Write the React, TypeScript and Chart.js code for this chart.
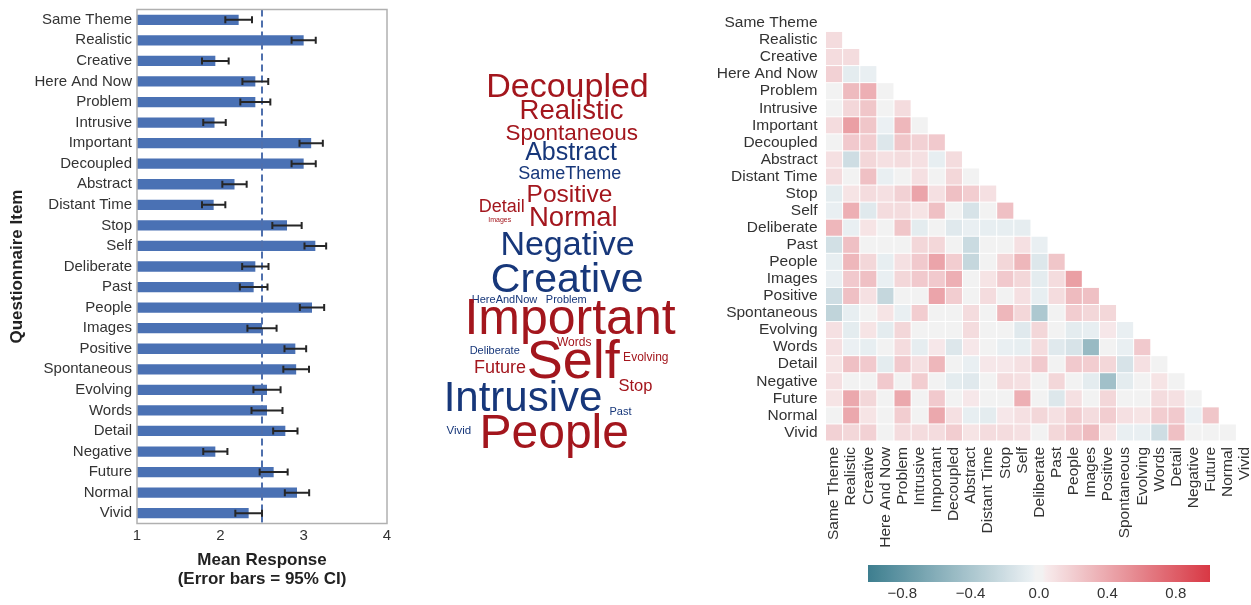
import React, { useEffect, useRef } from 'react';
import { Chart, registerables } from 'chart.js';

Chart.register(...registerables);
Chart.defaults.font.family = '"Liberation Sans", Arial, sans-serif';

// ---------------- Bar chart data ----------------
const items = [
  'Same Theme', 'Realistic', 'Creative', 'Here And Now', 'Problem', 'Intrusive',
  'Important', 'Decoupled', 'Abstract', 'Distant Time', 'Stop', 'Self',
  'Deliberate', 'Past', 'People', 'Images', 'Positive', 'Spontaneous',
  'Evolving', 'Words', 'Detail', 'Negative', 'Future', 'Normal', 'Vivid',
];
const meanResponse = [
  2.22, 3.0, 1.94, 2.42, 2.42, 1.93, 3.09, 3.0, 2.17, 1.92, 2.8, 3.14, 2.42,
  2.4, 3.1, 2.5, 2.9, 2.91, 2.56, 2.56, 2.78, 1.94, 2.64, 2.92, 2.34,
];
const ci95 = [
  0.16, 0.145, 0.16, 0.155, 0.18, 0.135, 0.14, 0.145, 0.146, 0.14, 0.176, 0.13,
  0.158, 0.166, 0.146, 0.175, 0.13, 0.154, 0.163, 0.186, 0.146, 0.145, 0.168,
  0.146, 0.16,
];
const xTicks = [1, 2, 3, 4];
const midpoint = 2.5;

// ---------------- Word cloud data ----------------
const cloudWords = [
  'Decoupled', 'Realistic', 'Spontaneous', 'Abstract', 'SameTheme', 'Positive',
  'Detail', 'Images', 'Normal', 'Negative', 'Creative', 'HereAndNow', 'Problem',
  'Important', 'Words', 'Deliberate', 'Self', 'Evolving', 'Future', 'Stop',
  'Intrusive', 'Past', 'Vivid', 'People',
];
const cloudWeight = [
  34, 27.5, 22.5, 25, 18, 24.5, 18, 7, 27.5, 34, 41, 11, 11, 50, 12, 11, 54, 12,
  18, 16.5, 42, 11, 11.5, 48,
];
const cloudAbove = [
  1, 1, 1, 0, 0, 1, 1, 1, 1, 0, 0, 0, 0, 1, 1, 0, 1, 1, 1, 1, 0, 0, 0, 1,
];
const cloudX = [
  147.5, 151.5, 151.7, 151, 149.7, 149.5, 81.7, 79.7, 153.3, 147.5, 147.2, 84.5,
  146.3, 150, 154.2, 74.7, 153.3, 225.8, 80, 215.5, 103, 200.5, 38.8, 134.2,
];
const cloudY = [
  96.7, 118.5, 139.5, 160, 178.5, 201.7, 211.7, 221.5, 226, 255, 291.7, 303,
  303, 334, 345.5, 354, 378.3, 361, 373.3, 391, 411, 415, 434, 448.3,
];

// ---------------- Heatmap data (lower triangle, row i has i values) ----------------
const heatLabels = items;
const corrRows: number[][] = [
  [],
  [0.12],
  [0.12, 0.12],
  [0.18, -0.08, -0.05],
  [0.02, 0.3, 0.36, 0.02],
  [0.03, 0.15, 0.24, 0.03, 0.12],
  [0.12, 0.45, 0.24, -0.04, 0.32, 0.02],
  [0.03, 0.22, 0.2, -0.12, 0.24, 0.18, 0.22],
  [0.1, -0.2, 0.15, 0.1, 0.12, 0.1, -0.06, 0.12],
  [0.12, 0.02, 0.27, -0.05, -0.02, 0.1, 0.02, 0.15, 0.03],
  [-0.08, 0.08, 0.12, 0.1, 0.18, 0.42, 0.1, 0.27, 0.2, 0.1],
  [-0.05, 0.36, -0.1, 0.12, 0.12, 0.08, 0.27, 0.02, -0.15, 0.02, 0.27],
  [0.32, -0.05, 0.08, 0.02, 0.24, -0.08, 0.0, -0.1, -0.05, -0.06, -0.06, -0.07],
  [-0.18, 0.27, 0.02, 0.02, 0.03, 0.15, 0.15, 0.03, -0.22, 0.02, 0.02, 0.1, -0.05],
  [-0.06, 0.32, 0.15, -0.06, 0.1, 0.22, 0.42, 0.2, -0.25, 0.02, 0.15, 0.32, -0.12, 0.24],
  [-0.05, 0.22, 0.27, -0.05, 0.15, 0.22, 0.22, 0.36, 0.0, 0.08, 0.22, 0.15, -0.08, 0.12, 0.45],
  [-0.2, 0.27, 0.1, -0.25, 0.02, 0.02, 0.42, 0.2, 0.02, 0.12, 0.0, 0.1, -0.06, 0.12, 0.3, 0.27],
  [-0.28, -0.06, 0.0, 0.08, -0.05, 0.2, 0.0, 0.02, 0.12, 0.0, 0.32, 0.15, -0.38, 0.02, 0.2, 0.15, 0.15],
  [0.1, -0.08, 0.08, -0.08, 0.15, 0.02, 0.02, 0.02, 0.12, 0.0, 0.0, -0.1, 0.15, 0.02, -0.08, -0.06, 0.06, -0.05],
  [0.1, -0.04, -0.06, 0.0, 0.12, -0.07, 0.06, -0.12, 0.06, 0.0, -0.05, -0.06, 0.12, -0.1, -0.15, -0.5, 0.02, -0.05, 0.22],
  [0.08, 0.27, 0.22, -0.08, 0.22, 0.1, 0.32, 0.02, -0.05, 0.06, 0.06, 0.1, 0.22, 0.02, 0.22, 0.2, 0.15, -0.15, 0.1, 0.02],
  [0.1, 0.03, 0.03, 0.22, 0.02, 0.2, 0.0, -0.08, -0.1, 0.02, 0.12, 0.1, 0.02, 0.15, 0.02, -0.08, -0.45, -0.08, 0.02, 0.08, 0.02],
  [0.08, 0.4, 0.15, 0.0, 0.4, 0.02, 0.22, 0.02, 0.06, 0.02, 0.0, 0.36, 0.02, -0.12, 0.1, 0.02, 0.15, 0.02, 0.03, 0.12, 0.1, 0.02],
  [0.03, 0.4, 0.08, 0.02, 0.2, 0.03, 0.4, 0.1, -0.06, -0.08, 0.06, 0.1, 0.15, 0.1, 0.2, 0.12, 0.2, 0.1, 0.08, 0.2, 0.22, -0.04, 0.24],
  [0.18, 0.15, 0.18, 0.02, 0.12, 0.12, 0.12, 0.2, 0.08, 0.12, 0.12, 0.1, 0.02, 0.15, 0.22, 0.3, 0.08, -0.05, -0.05, -0.2, 0.27, 0.02, 0.02, 0.02],
];
const cbTicks = [-0.8, -0.4, 0.0, 0.4, 0.8];

// ---------------- Colour map ----------------
const NEG_FULL = [61, 126, 143];
const NEG_GRAY = [236, 241, 244];
const MID = [242, 242, 242];
const POS_GRAY = [247, 236, 237];
const POS_FULL = [216, 56, 68];

function corrColor(v: number): string {
  const t = Math.max(-1, Math.min(1, v));
  const a = Math.abs(t);
  if (a < 0.035) return `rgb(${MID.join(',')})`;
  const f = (a - 0.035) / 0.965;
  const g = t > 0 ? POS_GRAY : NEG_GRAY;
  const c = t > 0 ? POS_FULL : NEG_FULL;
  const r = g.map((gv, k) => Math.round(gv + (c[k] - gv) * f));
  return `rgb(${r.join(',')})`;
}

const TXT = '#333333';

const barDecor = {
  id: 'barDecor',
  afterDatasetsDraw(chart: any) {
    const { ctx, chartArea: a, scales } = chart;
    const x = scales.x;
    const y = scales.y;
    ctx.save();
    const xm = x.getPixelForValue(midpoint);
    ctx.strokeStyle = '#4f70ad';
    ctx.lineWidth = 2;
    ctx.setLineDash([7, 4]);
    ctx.beginPath();
    ctx.moveTo(xm, a.top);
    ctx.lineTo(xm, a.bottom);
    ctx.stroke();
    ctx.setLineDash([]);
    ctx.strokeStyle = '#262626';
    ctx.lineWidth = 2;
    meanResponse.forEach((m, i) => {
      const yc = y.getPixelForValue(i);
      const x0 = x.getPixelForValue(m - ci95[i]);
      const x1 = x.getPixelForValue(m + ci95[i]);
      ctx.beginPath();
      ctx.moveTo(x0, yc);
      ctx.lineTo(x1, yc);
      ctx.moveTo(x0, yc - 3.5);
      ctx.lineTo(x0, yc + 3.5);
      ctx.moveTo(x1, yc - 3.5);
      ctx.lineTo(x1, yc + 3.5);
      ctx.stroke();
    });
    ctx.strokeStyle = '#b0b0b0';
    ctx.lineWidth = 1.5;
    ctx.strokeRect(a.left, a.top, a.right - a.left, a.bottom - a.top);
    ctx.restore();
  },
};

const cloudPlugin = {
  id: 'cloudWords',
  afterDatasetsDraw(chart: any) {
    const { ctx, scales } = chart;
    ctx.save();
    ctx.textAlign = 'center';
    ctx.textBaseline = 'alphabetic';
    cloudWords.forEach((w, i) => {
      ctx.font = `${cloudWeight[i]}px "Liberation Sans", Arial, sans-serif`;
      ctx.fillStyle = cloudAbove[i] ? '#a3161d' : '#17377a';
      ctx.fillText(w, scales.x.getPixelForValue(cloudX[i]), scales.y.getPixelForValue(cloudY[i]));
    });
    ctx.restore();
  },
};

const heatPlugin = {
  id: 'heatCells',
  beforeDatasetsDraw(chart: any) {
    const { ctx, scales } = chart;
    const x = scales.x;
    const y = scales.y;
    const cw = Math.abs(x.getPixelForValue(1) - x.getPixelForValue(0));
    const ch = Math.abs(y.getPixelForValue(1) - y.getPixelForValue(0));
    ctx.save();
    chart.data.datasets[0].data.forEach((p: any) => {
      const cx = x.getPixelForValue(p.x);
      const cy = y.getPixelForValue(p.y);
      ctx.fillStyle = corrColor(p.v);
      ctx.fillRect(cx - cw / 2 + 0.5, cy - ch / 2 + 0.5, cw - 1, ch - 1);
    });
    ctx.restore();
  },
};

const cbPlugin = {
  id: 'colorbar',
  beforeDatasetsDraw(chart: any) {
    const { ctx, chartArea: a, scales } = chart;
    const x = scales.x;
    const x0 = x.getPixelForValue(-1);
    const x1 = x.getPixelForValue(1);
    const grad = ctx.createLinearGradient(x0, 0, x1, 0);
    for (let k = 0; k <= 100; k++) {
      grad.addColorStop(k / 100, corrColor(-1 + (2 * k) / 100));
    }
    ctx.save();
    ctx.fillStyle = grad;
    ctx.fillRect(x0, a.top, x1 - x0, a.bottom - a.top);
    ctx.restore();
  },
};

function fmtTick(v: number): string {
  const s = Math.abs(v).toFixed(1);
  return v < -1e-9 ? '\u2212' + s : s;
}

const noGrid = { display: false, drawTicks: false, tickLength: 0 };

export default function App() {
  const barRef = useRef<HTMLCanvasElement>(null);
  const cloudRef = useRef<HTMLCanvasElement>(null);
  const heatRef = useRef<HTMLCanvasElement>(null);
  const cbRef = useRef<HTMLCanvasElement>(null);

  useEffect(() => {
    const charts: Chart[] = [];

    charts.push(
      new Chart(barRef.current as HTMLCanvasElement, {
        type: 'bar',
        data: {
          labels: items,
          datasets: [
            {
              data: meanResponse,
              backgroundColor: '#4a71b4',
              barPercentage: 0.5,
              categoryPercentage: 1,
            },
          ],
        },
        options: {
          indexAxis: 'y',
          responsive: false,
          animation: false,
          layout: { padding: { top: 9.5, right: 13, left: 0, bottom: 0 } },
          plugins: { legend: { display: false }, tooltip: { enabled: false } },
          scales: {
            x: {
              type: 'linear',
              min: 1,
              max: 4,
              afterBuildTicks: (s: any) => {
                s.ticks = xTicks.map((v) => ({ value: v }));
              },
              afterFit: (s: any) => {
                s.height = 81.5;
                s.paddingLeft = 0;
                s.paddingRight = 0;
              },
              grid: noGrid,
              border: { display: false },
              ticks: { padding: 3, color: TXT, font: { size: 15 } },
              title: {
                display: true,
                text: ['Mean Response', '(Error bars = 95% CI)'],
                color: '#222',
                font: { size: 17, weight: 'bold', lineHeight: 1.12 },
                padding: { top: 0, bottom: 16 },
              },
            },
            y: {
              afterFit: (s: any) => {
                s.width = 137;
                s.paddingTop = 0;
                s.paddingBottom = 0;
              },
              grid: noGrid,
              border: { display: false },
              ticks: { padding: 5, color: TXT, font: { size: 15 }, autoSkip: false },
              title: {
                display: true,
                text: 'Questionnaire Item',
                color: '#222',
                font: { size: 17, weight: 'bold' },
                padding: { top: 7, bottom: 0 },
              },
            },
          },
        } as any,
        plugins: [barDecor],
      })
    );

    charts.push(
      new Chart(cloudRef.current as HTMLCanvasElement, {
        type: 'scatter',
        data: { datasets: [{ data: cloudX.map((v, i) => ({ x: v, y: cloudY[i] })), pointRadius: 0 }] },
        options: {
          responsive: false,
          animation: false,
          layout: { padding: 0 },
          plugins: { legend: { display: false }, tooltip: { enabled: false } },
          scales: {
            x: { type: 'linear', min: 0, max: 290, display: false },
            y: { type: 'linear', min: 0, max: 605, reverse: true, display: false },
          },
        } as any,
        plugins: [cloudPlugin],
      })
    );

    const cells: { x: number; y: number; v: number }[] = [];
    corrRows.forEach((row, i) => row.forEach((v, j) => cells.push({ x: j, y: i, v })));

    charts.push(
      new Chart(heatRef.current as HTMLCanvasElement, {
        type: 'scatter',
        data: { datasets: [{ data: cells, pointRadius: 0, pointHoverRadius: 0 }] },
        options: {
          responsive: false,
          animation: false,
          layout: { padding: { top: 14.4, right: 6.5, left: 0, bottom: 0 } },
          plugins: { legend: { display: false }, tooltip: { enabled: false } },
          scales: {
            x: {
              type: 'linear',
              min: -0.5,
              max: 24.5,
              afterBuildTicks: (s: any) => {
                s.ticks = heatLabels.map((_, i) => ({ value: i }));
              },
              afterFit: (s: any) => {
                s.height = 164;
                s.paddingLeft = 0;
                s.paddingRight = 0;
              },
              grid: noGrid,
              border: { display: false },
              ticks: {
                autoSkip: false,
                minRotation: 90,
                maxRotation: 90,
                padding: 6,
                color: TXT,
                font: { size: 15.5 },
                callback: (_v: any, i: number) => heatLabels[i],
              },
            },
            y: {
              type: 'linear',
              reverse: true,
              min: -0.5,
              max: 24.5,
              afterBuildTicks: (s: any) => {
                s.ticks = heatLabels.map((_, i) => ({ value: i }));
              },
              afterFit: (s: any) => {
                s.width = 125.5;
                s.paddingTop = 0;
                s.paddingBottom = 0;
              },
              grid: noGrid,
              border: { display: false },
              ticks: {
                autoSkip: false,
                padding: 8,
                color: TXT,
                font: { size: 15.5 },
                callback: (_v: any, i: number) => heatLabels[i],
              },
            },
          },
        } as any,
        plugins: [heatPlugin],
      })
    );

    charts.push(
      new Chart(cbRef.current as HTMLCanvasElement, {
        type: 'scatter',
        data: { datasets: [{ data: [], pointRadius: 0 }] },
        options: {
          responsive: false,
          animation: false,
          layout: { padding: { left: 48, right: 41, top: 25, bottom: 0 } },
          plugins: { legend: { display: false }, tooltip: { enabled: false } },
          scales: {
            x: {
              type: 'linear',
              min: -1,
              max: 1,
              afterBuildTicks: (s: any) => {
                s.ticks = cbTicks.map((v) => ({ value: v }));
              },
              afterFit: (s: any) => {
                s.height = 23;
                s.paddingLeft = 0;
                s.paddingRight = 0;
              },
              grid: noGrid,
              border: { display: false },
              ticks: {
                padding: 3,
                color: TXT,
                font: { size: 15 },
                callback: (v: any) => fmtTick(Number(v)),
              },
            },
            y: { type: 'linear', min: 0, max: 1, display: false },
          },
        } as any,
        plugins: [cbPlugin],
      })
    );

    return () => charts.forEach((c) => c.destroy());
  }, []);

  return (
    <div
      style={{
        position: 'fixed',
        left: 0,
        top: 0,
        width: 1251,
        height: 605,
        overflow: 'hidden',
        background: '#ffffff',
      }}
    >
      <canvas ref={barRef} width={400} height={605} style={{ position: 'absolute', left: 0, top: 0 }} />
      <canvas ref={cloudRef} width={290} height={605} style={{ position: 'absolute', left: 420, top: 0 }} />
      <canvas ref={heatRef} width={560} height={605} style={{ position: 'absolute', left: 700, top: 0 }} />
      <canvas ref={cbRef} width={431} height={65} style={{ position: 'absolute', left: 820, top: 540 }} />
    </div>
  );
}
